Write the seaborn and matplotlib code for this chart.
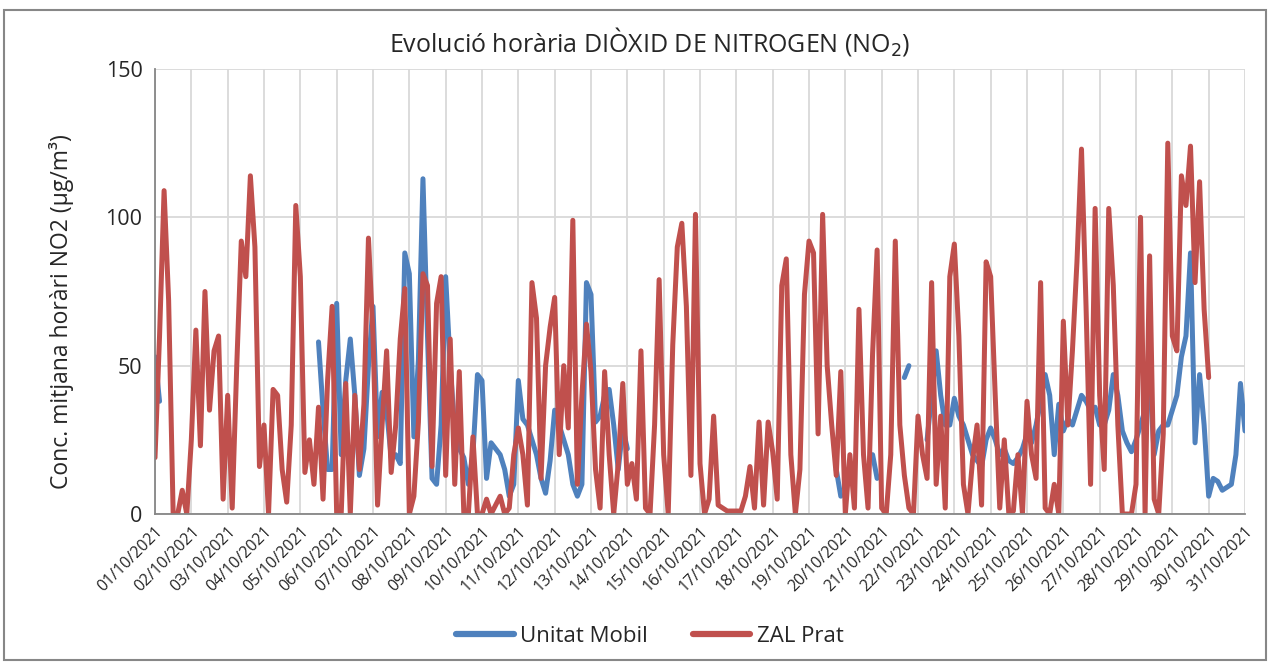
import numpy as np
import pandas as pd
import matplotlib.pyplot as plt
import matplotlib.dates as mdates
import seaborn as sns
from matplotlib.lines import Line2D
from matplotlib.patches import Rectangle

nan = np.nan

# ===============================
# DADES (valors cada 3 hores: 00, 03, ..., 21h)
# ===============================
zal_prat = [
    19, 60, 109, 72, 0, 0, 8, 0,          # 01/10
    25, 62, 23, 75, 35, 55, 60, 5,        # 02/10
    40, 2, 50, 92, 80, 114, 90, 16,       # 03/10
    30, 0, 42, 40, 15, 4, 30, 104,        # 04/10
    80, 14, 25, 10, 36, 5, 45, 70,        # 05/10
    0, 0, 44, 0, 40, 15, 37, 93,          # 06/10
    60, 3, 30, 55, 14, 30, 59, 76,        # 07/10
    0, 6, 31, 81, 77, 16, 71, 80,         # 08/10
    13, 59, 10, 48, 0, 0, 26, 0,          # 09/10
    0, 5, 0, 3, 6, 0, 2, 20,              # 10/10
    29, 20, 3, 78, 66, 12, 50, 63,        # 11/10
    73, 20, 50, 29, 99, 10, 40, 64,       # 12/10
    48, 15, 2, 48, 20, 0, 17, 44,         # 13/10
    10, 17, 5, 55, 2, 0, 30, 79,          # 14/10
    20, 0, 57, 90, 98, 70, 13, 101,       # 15/10
    17, 0, 5, 33, 3, 2, 1, 1,             # 16/10
    1, 1, 6, 16, 2, 31, 3, 31,            # 17/10
    21, 5, 77, 86, 20, 0, 15, 74,         # 18/10
    92, 88, 27, 101, 50, 30, 13, 48,      # 19/10
    0, 20, 2, 69, 20, 2, 54, 89,          # 20/10
    2, 0, 20, 92, 30, 13, 2, 0,           # 21/10
    33, 20, 12, 78, 10, 33, 2, 80,        # 22/10
    91, 60, 10, 0, 18, 30, 3, 85,         # 23/10
    80, 40, 2, 25, 0, 1, 20, 0,           # 24/10
    38, 20, 12, 78, 2, 0, 10, 0,          # 25/10
    65, 30, 55, 85, 123, 70, 10, 103,     # 26/10
    40, 15, 103, 77, 30, 0, 0, 0,         # 27/10
    10, 100, 0, 87, 5, 0, 27, 125,        # 28/10
    60, 55, 114, 104, 124, 78, 112, 69,   # 29/10
    46, nan, nan, nan, nan, nan, nan, nan,  # 30/10
    nan,                                  # 31/10
]

unitat_mobil = [
    53, 38, nan, nan, nan, nan, nan, nan,   # 01/10
    nan, nan, nan, nan, nan, nan, nan, nan, # 02/10
    nan, nan, nan, nan, nan, nan, nan, nan, # 03/10
    nan, nan, nan, nan, nan, nan, nan, nan, # 04/10
    nan, nan, nan, nan, 58, 35, 15, 15,     # 05/10
    71, 20, 45, 59, 40, 13, 22, 50,         # 06/10
    70, 26, 41, 35, 19, 20, 17, 88,         # 07/10
    81, 26, 52, 113, 60, 12, 10, 30,        # 08/10
    80, 50, 28, 22, 19, 10, 20, 47,         # 09/10
    45, 12, 24, 22, 20, 15, 6, 10,          # 10/10
    45, 32, 30, 25, 20, 12, 7, 18,          # 11/10
    35, 30, 25, 20, 10, 6, 10, 78,          # 12/10
    74, 31, 33, 40, 42, 30, 15, 29,         # 13/10
    22, nan, nan, nan, nan, nan, nan, nan,  # 14/10
    nan, nan, nan, nan, nan, nan, nan, nan, # 15/10
    nan, nan, nan, nan, nan, nan, nan, nan, # 16/10
    nan, nan, nan, nan, nan, nan, nan, nan, # 17/10
    nan, nan, nan, nan, nan, nan, nan, nan, # 18/10
    nan, nan, nan, nan, nan, nan, 15, 6,    # 19/10
    nan, nan, nan, nan, nan, nan, 20, 12,   # 20/10
    nan, nan, nan, nan, nan, 46, 50, nan,   # 21/10
    nan, nan, 25, 40, 55, 40, 30, 30,       # 22/10
    39, 33, 30, 25, 20, 18, 16, 25,         # 23/10
    29, 25, 20, 22, 18, 17, 19, 22,         # 24/10
    27, 24, 30, 38, 47, 40, 20, 37,         # 25/10
    28, 32, 30, 35, 40, 38, 35, 36,         # 26/10
    30, 30, 35, 47, 40, 28, 24, 21,         # 27/10
    25, 30, 35, 46, 20, 28, 30, 30,         # 28/10
    35, 40, 53, 60, 88, 24, 47, 30,         # 29/10
    6, 12, 11, 8, 9, 10, 20, 44,            # 30/10
    28,                                     # 31/10
]

series = ["Unitat Mobil", "ZAL Prat"]
colors = {"Unitat Mobil": "#4F81BD", "ZAL Prat": "#C0504D"}

dates = pd.date_range("2021-10-01", periods=len(zal_prat), freq="3h")
df = pd.DataFrame({"data": dates, "Unitat Mobil": unitat_mobil, "ZAL Prat": zal_prat})
long = df.melt(id_vars="data", var_name="serie", value_name="conc")
# trams separats on falten dades
long["tram"] = long.groupby("serie")["conc"].transform(lambda s: s.isna().cumsum())
long = long.dropna()

# ===============================
# PLOT
# ===============================
sns.set_style("white")
plt.rcParams["font.family"] = ["Open Sans", "DejaVu Sans"]

fig = plt.figure(figsize=(12.77, 6.66), dpi=100)
ax = fig.add_axes([155 / 1277, 1 - 514 / 666, (1245 - 155) / 1277, (514 - 69) / 666])

for s in series:
    sns.lineplot(data=long[long["serie"] == s], x="data", y="conc", units="tram",
                 estimator=None, color=colors[s], lw=3.6, ax=ax, legend=False,
                 solid_joinstyle="round", solid_capstyle="round")

ax.set_xlim(pd.Timestamp("2021-10-01"), pd.Timestamp("2021-10-31"))
ax.set_ylim(0, 150)
ax.set_yticks([0, 50, 100, 150])
ax.xaxis.set_major_locator(mdates.DayLocator())
ax.xaxis.set_major_formatter(mdates.DateFormatter("%d/%m/%Y"))
plt.setp(ax.get_xticklabels(), rotation=45, ha="right", rotation_mode="anchor")

ax.grid(True, color="#D9D9D9", lw=1.3)
ax.set_axisbelow(True)
for side in ["top", "right"]:
    ax.spines[side].set_visible(False)
for side in ["left", "bottom"]:
    ax.spines[side].set_color("#868686")
    ax.spines[side].set_linewidth(1.3)
ax.tick_params(axis="x", length=5, color="#868686", labelsize=11.5, pad=2)
ax.tick_params(axis="y", length=5, color="#868686", labelsize=15.5, pad=4)
ax.set_xlabel("")
ax.set_ylabel("")

fig.text(650 / 1277, 1 - 42 / 666, "Evolució horària DIÒXID DE NITROGEN (NO$_2$)",
         ha="center", va="center", fontsize=18)
fig.text(62 / 1277, 1 - 312 / 666, "Conc. mitjana horàri NO2 (µg/m³)",
         rotation=90, ha="center", va="center", fontsize=16.5)

handles = [Line2D([0], [0], color=colors[s], lw=4.5) for s in series]
fig.legend(handles, series, loc="center", bbox_to_anchor=(650 / 1277, 1 - 636 / 666),
           ncol=2, frameon=False, fontsize=16, handlelength=2.6, handletextpad=0.3,
           columnspacing=2.0)

fig.patches.append(Rectangle((4 / 1277, 6 / 666), 1262 / 1277, 650 / 666,
                             transform=fig.transFigure, fill=False,
                             edgecolor="#878787", lw=1.5))

fig.savefig("out.png", dpi=100)
